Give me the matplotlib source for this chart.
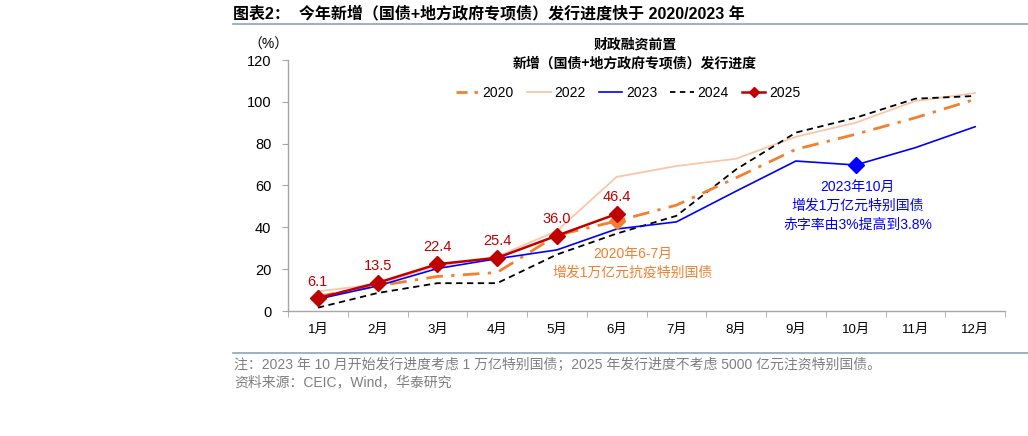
import matplotlib
matplotlib.use("Agg")
import matplotlib.pyplot as plt
from matplotlib.lines import Line2D
import numpy as np

plt.rcParams['font.family'] = ['Liberation Sans', 'Noto Sans CJK SC', 'DejaVu Sans']

months = ["1月", "2月", "3月", "4月", "5月", "6月", "7月", "8月", "9月", "10月", "11月", "12月"]
s2020 = [7.0, 12.0, 16.5, 18.4, 36.2, 43.0, 50.6, 63.7, 77.3, 84.5, 92.4, 101.2]
s2022 = [9.4, 12.8, 21.5, 26.0, 38.3, 64.1, 69.3, 72.8, 83.3, 90.0, 100.4, 104.2]
s2023 = [5.7, 12.0, 20.3, 25.0, 29.2, 39.2, 42.6, 57.3, 71.7, 69.8, 78.1, 88.1]
s2024 = [1.6, 8.6, 13.3, 13.3, 27.0, 37.0, 45.5, 67.7, 85.3, 92.4, 101.5, 102.8]
s2025 = [6.1, 13.5, 22.4, 25.4, 36.0, 46.4]
yticks = [0, 20, 40, 60, 80, 100, 120]

c2020 = "#F2802F"
c2022 = "#F9C7A8"
c2023 = "#0000FF"
c2024 = "#000000"
c2025 = "#C00000"
axis_c = "#A6A6A6"

fig = plt.figure(figsize=(10.28, 4.36), dpi=100)
ax = fig.add_axes([288/1028, 125/436, 717/1028, 251/436])

x = np.arange(len(months))
ax.plot(x, s2022, color=c2022, lw=1.3, zorder=2)
ax.plot(x, s2024, color=c2024, lw=1.3, ls=(0, (3.5, 2.5)), zorder=3)
ax.plot(x, s2020, color=c2020, lw=2.0, ls=(0, (6, 3, 1.2, 3)), zorder=4)
ax.plot(x, s2023, color=c2023, lw=1.2, zorder=5)
x25 = np.arange(len(s2025))
ax.plot(x25, s2025, color=c2025, lw=1.8, marker='D', ms=8, zorder=6)

# highlighted points
ax.plot([5], [s2020[5]], marker='D', color=c2020, ms=8, ls='none', zorder=5)
ax.plot([9], [s2023[9]], marker='D', color=c2023, ms=8, ls='none', zorder=6)

for xi, v in zip(x25, s2025):
    ax.annotate(f"{v:.1f}", (xi, v), xytext=(0, 7), textcoords='offset points',
                ha='center', va='bottom', color=c2025, fontsize=10.5)

ax.set_xlim(-0.5, len(months) - 0.5)
ax.set_ylim(0, 120)
ax.set_yticks(yticks)
ax.set_yticklabels([str(t) for t in yticks], fontsize=10.5)
ax.set_xticks(x)
ax.set_xticklabels(months, fontsize=9.5)
ax.set_xticks(np.arange(-0.5, len(months)), minor=True)
ax.tick_params(axis='x', which='major', length=0, pad=9)
ax.tick_params(axis='x', which='minor', length=4.5, color=axis_c, direction='out')
ax.tick_params(axis='y', length=4, color=axis_c, pad=8)
for s in ['top', 'right']:
    ax.spines[s].set_visible(False)
for s in ['left', 'bottom']:
    ax.spines[s].set_color(axis_c)
    ax.spines[s].set_linewidth(1.0)

ax.text(0.484, 1.06, "财政融资前置", transform=ax.transAxes, ha='center', va='center',
        fontsize=10, fontweight='bold', family=['Noto Sans CJK SC'])
ax.text(0.484, 0.988, "新增（国债+地方政府专项债）发行进度", transform=ax.transAxes, ha='center',
        va='center', fontsize=10, fontweight='bold', family=['Noto Sans CJK SC'])

handles = [
    Line2D([], [], color=c2020, lw=2.0, ls=(0, (4, 2.5, 1.2, 2.5))),
    Line2D([], [], color=c2022, lw=1.3),
    Line2D([], [], color=c2023, lw=1.2),
    Line2D([], [], color=c2024, lw=1.3, ls=(0, (3, 2.5))),
    Line2D([], [], color=c2025, lw=1.8, marker='D', ms=5),
]
ax.legend(handles, ["2020", "2022", "2023", "2024", "2025"], ncol=5, frameon=False,
          loc='center', bbox_to_anchor=(0.474, 0.868), fontsize=10, handlelength=1.7,
          handletextpad=0.25, columnspacing=0.95)

ax.text(5.27, 22.6, "2020年6-7月\n增发1万亿元抗疫特别国债", color=c2020, ha='center', va='center',
        fontsize=10, linespacing=1.45)
ax.text(9.03, 50.3, "2023年10月\n增发1万亿元特别国债\n赤字率由3%提高到3.8%", color=c2023,
        ha='center', va='center', fontsize=10, linespacing=1.45)

# header / footer
fig.text(233/1028, 1 - 13/436, "图表2：  今年新增（国债+地方政府专项债）发行进度快于 2020/2023 年",
         ha='left', va='center', fontsize=11.5, fontweight='bold')
fig.add_artist(Line2D([233/1028, 1.0], [1 - 24/436, 1 - 24/436], color="#8EA3BF", lw=1.2))
fig.text(268/1028, 1 - 45/436, "（%）", ha='center', va='center', fontsize=10)
fig.add_artist(Line2D([233/1028, 1.0], [1 - 353/436, 1 - 353/436], color="#8EA3BF", lw=1.2))
fig.text(234/1028, 1 - 365/436,
         "注：2023 年 10 月开始发行进度考虑 1 万亿特别国债；2025 年发行进度不考虑 5000 亿元注资特别国债。",
         ha='left', va='center', fontsize=10, color="#7F7F7F")
fig.text(234/1028, 1 - 382/436, "资料来源：CEIC，Wind，华泰研究",
         ha='left', va='center', fontsize=10, color="#7F7F7F")

fig.savefig("out.png", dpi=100)
